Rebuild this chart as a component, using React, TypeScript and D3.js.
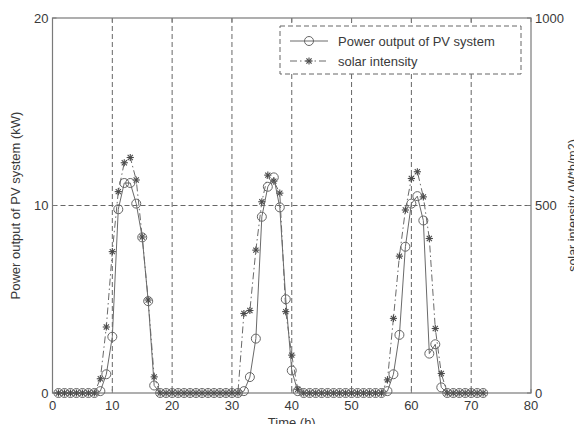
import React from "react";
import * as d3 from "d3";

const hours: number[] = Array.from({ length: 72 }, (_, i) => i + 1);

// Power output of PV system (kW), hours 1..72
const powerValues: number[] = [
  0, 0, 0, 0, 0, 0, 0, 0.1, 1.0, 3.0, 9.8, 11.2, 11.2, 10.1, 8.3, 4.9, 0.4,
  0, 0, 0, 0, 0, 0, 0, 0, 0, 0, 0, 0, 0, 0,
  0.1, 0.85, 2.9, 9.4, 11.0, 11.5, 9.9, 5.0, 1.2, 0.1,
  0, 0, 0, 0, 0, 0, 0, 0, 0, 0, 0, 0, 0, 0,
  0.1, 1.0, 3.1, 7.8, 10.1, 10.5, 9.2, 2.1, 2.6, 0.3,
  0, 0, 0, 0, 0, 0, 0,
];

// Solar intensity (W*h/m2), hours 1..72
const solarValues: number[] = [
  0, 0, 0, 0, 0, 0, 0, 38, 176, 377, 537, 614, 628, 568, 416, 248, 43,
  0, 0, 0, 0, 0, 0, 0, 0, 0, 0, 0, 0, 0, 0,
  212, 220, 381, 510, 581, 565, 533, 217, 101, 10,
  0, 0, 0, 0, 0, 0, 0, 0, 0, 0, 0, 0, 0, 0,
  35, 199, 365, 488, 572, 590, 523, 412, 172, 52,
  0, 0, 0, 0, 0, 0, 0,
];

const xTicks: number[] = [0, 10, 20, 30, 40, 50, 60, 70, 80];
const yLeftTicks: number[] = [0, 10, 20];
const yRightTicks: number[] = [0, 500, 1000];

const legendLabels: string[] = ["Power output of PV system", "solar intensity"];
const xLabel = "Time (h)";
const yLeftLabel = "Power output of PV system (kW)";
const yRightLabel = "solar intensity (W*h/m2)";

const W = 582;
const H = 432;
const M = { left: 52.5, right: 531, top: 18, bottom: 393 };
const FONT = "'Liberation Sans', Arial, Helvetica, sans-serif";
const AXIS_COLOR = "#7a7a7a";
const TEXT_COLOR = "#3a3a3a";
const LINE_COLOR = "#6a6a6a";

function Star({ x, y, s = 3.6 }: { x: number; y: number; s?: number }) {
  const d = s * 0.72;
  return (
    <g stroke="#4a4a4a" strokeWidth={1.1}>
      <line x1={x - s} y1={y} x2={x + s} y2={y} />
      <line x1={x} y1={y - s} x2={x} y2={y + s} />
      <line x1={x - d} y1={y - d} x2={x + d} y2={y + d} />
      <line x1={x - d} y1={y + d} x2={x + d} y2={y - d} />
    </g>
  );
}

export default function App() {
  const x = d3.scaleLinear().domain([0, 80]).range([M.left, M.right]);
  const yL = d3.scaleLinear().domain([0, 20]).range([M.bottom, M.top]);
  const yR = d3.scaleLinear().domain([0, 1000]).range([M.bottom, M.top]);

  const powerLine = d3
    .line<number>()
    .x((_, i) => x(hours[i]))
    .y((d) => yL(d))(powerValues) as string;
  const solarLine = d3
    .line<number>()
    .x((_, i) => x(hours[i]))
    .y((d) => yR(d))(solarValues) as string;

  const gridDash = "5,3";
  const dashDot = "7,3,1.5,3";

  return (
    <div style={{ margin: -8 }}>
      <svg width={W} height={H} style={{ display: "block", background: "#fff" }}>
        {/* vertical grid */}
        {xTicks.slice(1, -1).map((t) => (
          <line
            key={"gx" + t}
            x1={x(t)}
            x2={x(t)}
            y1={M.top}
            y2={M.bottom}
            stroke="#666"
            strokeWidth={1}
            strokeDasharray={gridDash}
          />
        ))}
        {/* horizontal grid */}
        {yLeftTicks.slice(1, -1).map((t) => (
          <line
            key={"gy" + t}
            x1={M.left}
            x2={M.right}
            y1={yL(t)}
            y2={yL(t)}
            stroke="#666"
            strokeWidth={1}
            strokeDasharray={gridDash}
          />
        ))}
        {/* axes box */}
        <rect
          x={M.left}
          y={M.top}
          width={M.right - M.left}
          height={M.bottom - M.top}
          fill="none"
          stroke={AXIS_COLOR}
          strokeWidth={1.2}
        />
        {/* x ticks top and bottom */}
        {xTicks.map((t) => (
          <g key={"xt" + t}>
            <line x1={x(t)} x2={x(t)} y1={M.bottom} y2={M.bottom - 4} stroke={AXIS_COLOR} />
            <line x1={x(t)} x2={x(t)} y1={M.top} y2={M.top + 4} stroke={AXIS_COLOR} />
            <text
              x={x(t)}
              y={M.bottom + 17}
              textAnchor="middle"
              fontFamily={FONT}
              fontSize={13}
              fill={TEXT_COLOR}
            >
              {t}
            </text>
          </g>
        ))}
        {yLeftTicks.map((t) => (
          <g key={"yl" + t}>
            <line x1={M.left} x2={M.left + 4} y1={yL(t)} y2={yL(t)} stroke={AXIS_COLOR} />
            <text
              x={M.left - 4}
              y={yL(t) + 4.5}
              textAnchor="end"
              fontFamily={FONT}
              fontSize={13}
              fill={TEXT_COLOR}
            >
              {t}
            </text>
          </g>
        ))}
        {yRightTicks.map((t) => (
          <g key={"yr" + t}>
            <line x1={M.right} x2={M.right - 4} y1={yR(t)} y2={yR(t)} stroke={AXIS_COLOR} />
            <text
              x={M.right + 4}
              y={yR(t) + 4.5}
              textAnchor="start"
              fontFamily={FONT}
              fontSize={13}
              fill={TEXT_COLOR}
            >
              {t}
            </text>
          </g>
        ))}
        {/* axis labels */}
        <text
          x={(M.left + M.right) / 2}
          y={427}
          textAnchor="middle"
          fontFamily={FONT}
          fontSize={13}
          fill={TEXT_COLOR}
        >
          {xLabel}
        </text>
        <text
          transform={`translate(20,${(M.top + M.bottom) / 2}) rotate(-90)`}
          textAnchor="middle"
          fontFamily={FONT}
          fontSize={13}
          fill={TEXT_COLOR}
        >
          {yLeftLabel}
        </text>
        <text
          transform={`translate(577,${(M.top + M.bottom) / 2}) rotate(-90)`}
          textAnchor="middle"
          fontFamily={FONT}
          fontSize={12.5}
          fill={TEXT_COLOR}
        >
          {yRightLabel}
        </text>

        {/* series */}
        <path d={solarLine} fill="none" stroke={LINE_COLOR} strokeWidth={1} strokeDasharray={dashDot} />
        <path d={powerLine} fill="none" stroke={LINE_COLOR} strokeWidth={1} />
        {solarValues.map((v, i) => (
          <Star key={"s" + i} x={x(hours[i])} y={yR(v)} />
        ))}
        {powerValues.map((v, i) => (
          <circle
            key={"p" + i}
            cx={x(hours[i])}
            cy={yL(v)}
            r={4.5}
            fill="none"
            stroke="#666"
            strokeWidth={1}
          />
        ))}

        {/* legend */}
        <g>
          <rect x={280} y={26} width={241} height={48} fill="#fff" stroke="#666" strokeDasharray="5,3" />
          <line x1={290} x2={328} y1={41} y2={41} stroke={LINE_COLOR} />
          <circle cx={309} cy={41} r={4.5} fill="none" stroke="#666" />
          <text x={338} y={46} fontFamily={FONT} fontSize={13} fill={TEXT_COLOR}>
            {legendLabels[0]}
          </text>
          <line x1={290} x2={328} y1={61} y2={61} stroke={LINE_COLOR} strokeDasharray={dashDot} />
          <Star x={309} y={61} />
          <text x={338} y={66} fontFamily={FONT} fontSize={13} fill={TEXT_COLOR}>
            {legendLabels[1]}
          </text>
        </g>
      </svg>
    </div>
  );
}
